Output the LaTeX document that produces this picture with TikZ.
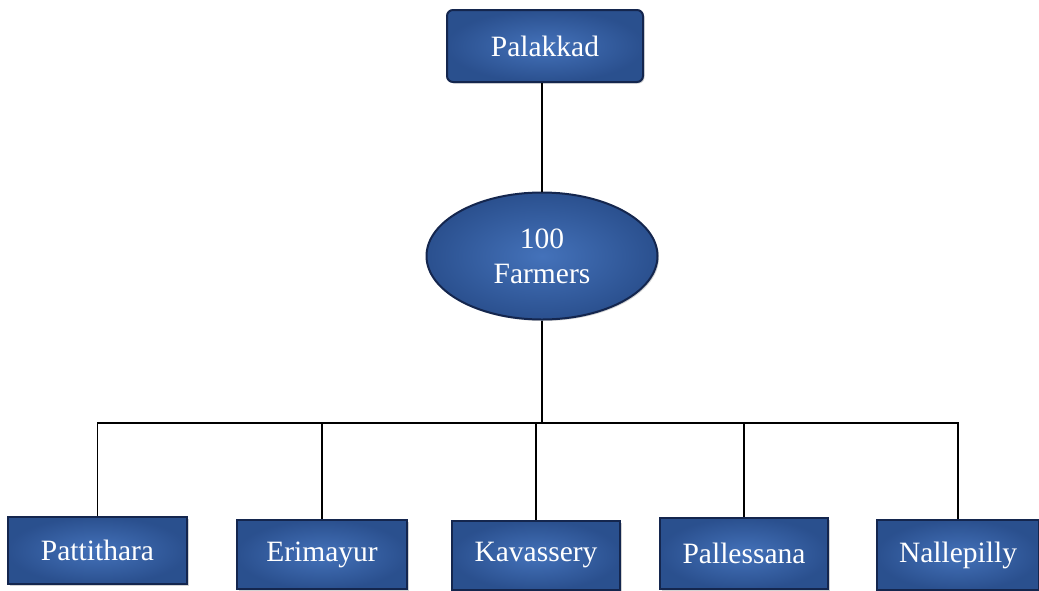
\documentclass[tikz,border=0pt]{standalone}
\usepackage{fontspec}
\setmainfont{Liberation Serif}
\usetikzlibrary{shapes.geometric,shadows}
\definecolor{boxmid}{RGB}{50,94,164}
\definecolor{boxedge}{RGB}{20,38,78}
\definecolor{boxlight}{RGB}{68,114,186}
\tikzset{
  bluebox/.style={rectangle, draw=boxedge, line width=2pt, inner color=boxlight, outer color=boxmid!75!boxedge,
    text=white, font=\fontsize{29.5}{34}\selectfont, inner sep=0pt, align=center,
    drop shadow={shadow xshift=1.5pt, shadow yshift=-1.5pt, opacity=0.35}},
  blueoval/.style={ellipse, draw=boxedge, line width=2pt, inner color=boxlight, outer color=boxmid!75!boxedge,
    text=white, font=\fontsize{29.5}{35}\selectfont, inner sep=0pt, align=center,
    drop shadow={shadow xshift=1.5pt, shadow yshift=-1.5pt, opacity=0.35}},
  conn/.style={draw=black, line width=1.6pt}
}
\begin{document}
\begin{tikzpicture}[x=1pt,y=1pt]
\useasboundingbox (0,0) rectangle (1039,-590);
\node[bluebox, rounded corners=6pt, minimum width=196pt, minimum height=72pt] (pal) at (545,-46) {Palakkad};
\node[blueoval, minimum width=231pt, minimum height=127pt] (far) at (542,-256) {100\\Farmers};
\node[bluebox, minimum width=179pt, minimum height=67pt] (pat) at (97.5,-550.5) {Pattithara};
\node[bluebox, minimum width=170pt, minimum height=69pt] (eri) at (322,-554.5) {Erimayur};
\node[bluebox, minimum width=168pt, minimum height=69pt] (kav) at (536,-555.5) {Kavassery};
\node[bluebox, minimum width=168pt, minimum height=71pt] (pls) at (744,-553.5) {Pallessana};
\node[bluebox, minimum width=162pt, minimum height=70pt] (nal) at (958,-555) {Nallepilly};
\coordinate (bar) at (0,-423);
\draw[conn] (far.north) -- (far.north |- pal.south);
\draw[conn] (far.south) -- (far.south |- bar);
\draw[conn] (pat.north) -- (pat.north |- bar) -- (nal.north |- bar) -- (nal.north);
\draw[conn] (eri.north |- bar) -- (eri.north);
\draw[conn] (kav.north |- bar) -- (kav.north);
\draw[conn] (pls.north |- bar) -- (pls.north);
\end{tikzpicture}
\end{document}
